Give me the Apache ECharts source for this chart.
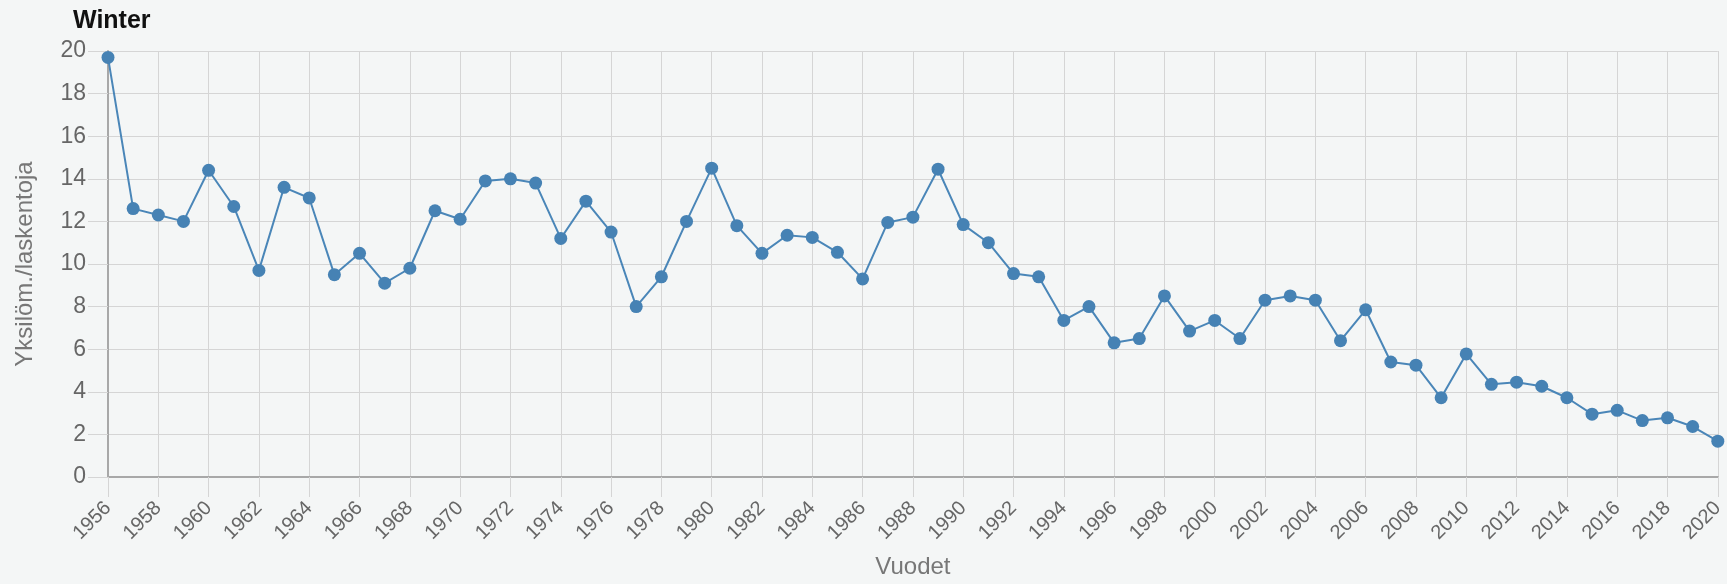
<!DOCTYPE html>
<html>
<head>
<meta charset="utf-8">
<script src="https://cdn.jsdelivr.net/npm/echarts@6/dist/echarts.min.js"></script>
<style>
html,body{margin:0;padding:0;background:#f4f6f6;}
#chart{width:1727px;height:584px;}
</style>
</head>
<body>
<div id="chart"></div>
<script>
const years = [];
for (let y = 1956; y <= 2020; y++) years.push(String(y));

const winterValues = [
  19.7, 12.6, 12.3, 12.0, 14.4, 12.7, 9.7, 13.6, 13.1, 9.5,
  10.5, 9.1, 9.8, 12.5, 12.1, 13.9, 14.0, 13.8, 11.2, 12.95,
  11.5, 8.0, 9.4, 12.0, 14.5, 11.8, 10.5, 11.35, 11.25, 10.55,
  9.3, 11.95, 12.2, 14.45, 11.85, 11.0, 9.55, 9.4, 7.35, 8.0,
  6.3, 6.5, 8.5, 6.85, 7.35, 6.5, 8.3, 8.5, 8.3, 6.4,
  7.85, 5.4, 5.25, 3.72, 5.78, 4.35, 4.45, 4.26, 3.72, 2.95,
  3.13, 2.65, 2.78, 2.37, 1.68
];

const yTicks = { min: 0, max: 20, interval: 2 };
const titleText = 'Winter';
const yName = 'Yksilöm./laskentoja';
const xName = 'Vuodet';

const FONT = '"Liberation Sans", Arial, sans-serif';
const chart = echarts.init(document.getElementById('chart'));
chart.setOption({
  backgroundColor: '#f4f6f6',
  animation: false,
  title: {
    text: titleText,
    left: 68, top: 4,
    textStyle: { fontFamily: FONT, fontSize: 25, fontWeight: 'bold', color: '#111' }
  },
  grid: { left: 108, right: 6, top: 51, bottom: 103 },
  xAxis: {
    type: 'category',
    data: years,
    boundaryGap: false,
    name: xName,
    nameLocation: 'middle',
    nameGap: 78,
    nameTextStyle: { fontFamily: FONT, fontSize: 24, color: '#777' },
    axisLine: { show: true, lineStyle: { color: '#a8a8a8', width: 2 } },
    axisTick: { show: true, interval: 1, length: 20, lineStyle: { color: '#d5d5d5' } },
    axisLabel: {
      interval: 1, rotate: 45, margin: 28,
      fontFamily: FONT, fontSize: 20, color: '#666'
    },
    splitLine: { show: true, interval: 1, lineStyle: { color: '#d5d5d5', width: 1 } }
  },
  yAxis: {
    type: 'value',
    min: yTicks.min, max: yTicks.max, interval: yTicks.interval,
    name: yName,
    nameLocation: 'middle',
    nameGap: 71,
    nameTextStyle: { fontFamily: FONT, fontSize: 24, color: '#777' },
    axisLine: { show: true, lineStyle: { color: '#a8a8a8', width: 2 } },
    axisTick: { show: true, length: 20, lineStyle: { color: '#d5d5d5' } },
    axisLabel: { margin: 22, fontFamily: FONT, fontSize: 23, color: '#666' },
    splitLine: { show: true, lineStyle: { color: '#d5d5d5', width: 1 } }
  },
  series: [{
    type: 'line',
    data: winterValues,
    symbol: 'circle',
    symbolSize: 13,
    showAllSymbol: true,
    itemStyle: { color: '#4682b4' },
    lineStyle: { color: '#4a86b8', width: 2 }
  }]
});
</script>
</body>
</html>
